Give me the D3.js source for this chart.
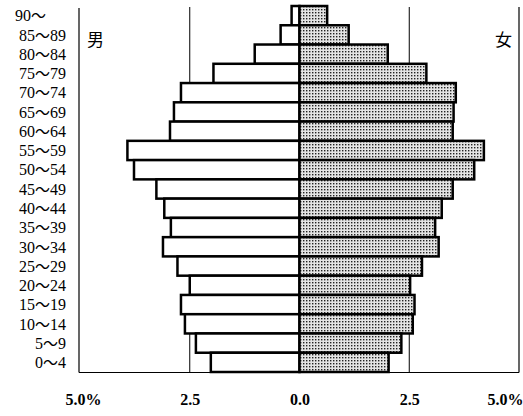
<!DOCTYPE html>
<html><head><meta charset="utf-8">
<script src="https://cdn.jsdelivr.net/npm/d3@7"></script>
<style>body{margin:0;background:#fff}</style>
</head><body>
<svg id="c" width="523" height="416"></svg>
<script>
const ages = ["90～","85～89","80～84","75～79","70～74","65～69","60～64","55～59","50～54","45～49","40～44","35～39","30～34","25～29","20～24","15～19","10～14","5～9","0～4"];
const male = [0.18,0.43,1.02,1.96,2.70,2.86,2.95,3.92,3.77,3.26,3.08,2.93,3.11,2.78,2.50,2.70,2.61,2.36,2.02];
const female = [0.63,1.12,2.01,2.89,3.56,3.51,3.49,4.20,3.98,3.49,3.24,3.09,3.17,2.79,2.52,2.62,2.58,2.32,2.03];
const tickValues = [-5,-2.5,0,2.5,5];
const tickLabels = ["5.0%","2.5","0.0","2.5","5.0%"];

const svg = d3.select("#c");
const x = d3.scaleLinear().domain([-5,5]).range([80,519]);
const y = d3.scaleBand().domain(ages).range([6,372]).padding(0);

const defs = svg.append("defs");
const pat = defs.append("pattern").attr("id","dots").attr("patternUnits","userSpaceOnUse")
  .attr("width",3).attr("height",3);
pat.append("rect").attr("width",3).attr("height",3).attr("fill","#e4e4e4");
pat.append("rect").attr("width",1.4).attr("height",1.4).attr("fill","#222");

// gridlines
svg.selectAll("line.grid").data([-2.5,2.5]).join("line").attr("class","grid")
  .attr("x1",d=>x(d)).attr("x2",d=>x(d)).attr("y1",7).attr("y2",372)
  .attr("stroke","#000").attr("stroke-width",1);

// male bars
svg.selectAll("rect.m").data(ages).join("rect").attr("class","m")
  .attr("x",(d,i)=>x(-male[i])).attr("width",(d,i)=>x(0)-x(-male[i]))
  .attr("y",d=>y(d)).attr("height",y.bandwidth())
  .attr("fill","#fff").attr("stroke","#000").attr("stroke-width",2.5);
// female bars
svg.selectAll("rect.f").data(ages).join("rect").attr("class","f")
  .attr("x",x(0)).attr("width",(d,i)=>x(female[i])-x(0))
  .attr("y",d=>y(d)).attr("height",y.bandwidth())
  .attr("fill","url(#dots)").attr("stroke","#000").attr("stroke-width",2.5);

// frame (left, right, bottom)
const fr = svg.append("g").attr("stroke","#000").attr("stroke-width",1.2);
fr.append("line").attr("x1",x(-5)-1).attr("x2",x(-5)-1).attr("y1",8).attr("y2",372.5);
fr.append("line").attr("x1",x(5)).attr("x2",x(5)).attr("y1",7).attr("y2",372.5);
fr.append("line").attr("x1",x(-5)-1).attr("x2",x(5)).attr("y1",372.5).attr("y2",372.5);

// x axis labels
const ax = svg.append("g").attr("transform","translate(0,391)")
  .call(d3.axisBottom(x).tickValues(tickValues).tickSize(0).tickFormat((d,i)=>tickLabels[i]));
ax.select(".domain").remove();
ax.selectAll("text").attr("font-family","'Liberation Serif', serif").attr("font-size",16)
  .attr("font-weight","bold").attr("fill","#000");
ax.selectAll(".tick").filter((d,i)=>i===4).select("text").attr("text-anchor","end").attr("x",4);
ax.selectAll(".tick").filter((d,i)=>i===0).select("text").attr("x",3);

// age labels
const lab = svg.selectAll("text.age").data(ages).join("text").attr("class","age")
  .attr("x",(d,i)=>i===0?15:66).attr("text-anchor",(d,i)=>i===0?"start":"end")
  .attr("y",d=>y(d)+y.bandwidth()/2).attr("dy","0.36em")
  .attr("font-family","'Liberation Serif', serif").attr("font-size",16).attr("fill","#000");
lab.each(function(d){
  const parts = d.split("～");
  const t = d3.select(this);
  t.append("tspan").text(parts[0]);
  t.append("tspan").attr("font-family","'Noto Sans CJK JP', sans-serif").attr("font-size",15).text("～");
  if (parts[1]) t.append("tspan").text(parts[1]);
});

// sex labels
svg.append("text").attr("x",87).attr("y",46).attr("font-family","'Noto Sans CJK JP', sans-serif")
  .attr("font-size",17).text("男");
svg.append("text").attr("x",495).attr("y",46).attr("font-family","'Noto Sans CJK JP', sans-serif")
  .attr("font-size",17).text("女");
</script>
</body></html>
